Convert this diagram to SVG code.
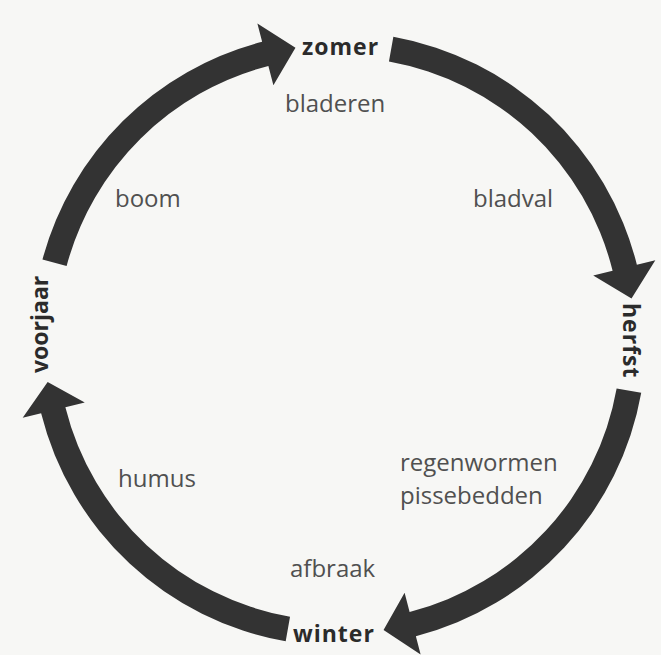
<svg xmlns="http://www.w3.org/2000/svg" width="661" height="655" viewBox="0 0 661 655">
  <style>
    .arrow { fill: #333333; stroke: none; }
    .season { font-family: "Open Sans", "DejaVu Sans", sans-serif; font-weight: 700; font-size: 23px; fill: #2b2b2b; }
    .spaced { letter-spacing: 1px; }
    .note { font-family: "Open Sans", "DejaVu Sans", sans-serif; font-weight: 400; font-size: 24px; fill: #505050; }
  </style>
  <rect x="0" y="0" width="661" height="655" fill="#f7f7f5"/>
  <g id="connectors">
    <path id="arrow-voorjaar-zomer" class="arrow" d="M42.46,259.54 A307,307 0 0 1 262.13,41.78 L257.38,23.38 L295.47,47.73 L273.40,85.34 L268.39,65.98 A282,282 0 0 0 66.61,266.01 Z"/>
    <path id="arrow-zomer-herfst" class="arrow" d="M393.36,36.85 A307,307 0 0 1 636.88,264.73 L655.32,260.13 L631.5,298.5 L593.22,275.62 L612.62,270.78 A282,282 0 0 0 388.94,61.46 Z"/>
    <path id="arrow-herfst-winter" class="arrow" d="M641.24,392.84 A307,307 0 0 1 415.87,636.22 L420.62,654.62 L383.55,630.11 L404.60,592.66 L409.61,612.02 A282,282 0 0 0 616.63,388.45 Z"/>
    <path id="arrow-winter-voorjaar" class="arrow" d="M285.69,641.34 A307,307 0 0 1 41.12,413.27 L22.68,417.87 L47.66,382.02 L84.78,402.38 L65.38,407.22 A282,282 0 0 0 290.03,616.72 Z"/>
  </g>
  <g id="zomer"><text class="season spaced" x="302" y="55">zomer</text></g>
  <g id="herfst"><text class="season spaced" transform="translate(623,303) rotate(90)">herfst</text></g>
  <g id="winter"><text class="season spaced" x="293" y="642">winter</text></g>
  <g id="voorjaar"><text class="season" transform="translate(48,373) rotate(-90)">voorjaar</text></g>
  <g id="bladeren"><text class="note" x="285" y="112">bladeren</text></g>
  <g id="bladval"><text class="note" x="473" y="207">bladval</text></g>
  <g id="regenwormen-pissebedden">
    <text class="note" x="400" y="471">regenwormen</text>
    <text class="note" x="400" y="504">pissebedden</text>
  </g>
  <g id="afbraak"><text class="note" x="290" y="577">afbraak</text></g>
  <g id="humus"><text class="note" x="118" y="487">humus</text></g>
  <g id="boom"><text class="note" x="115" y="207">boom</text></g>
</svg>
